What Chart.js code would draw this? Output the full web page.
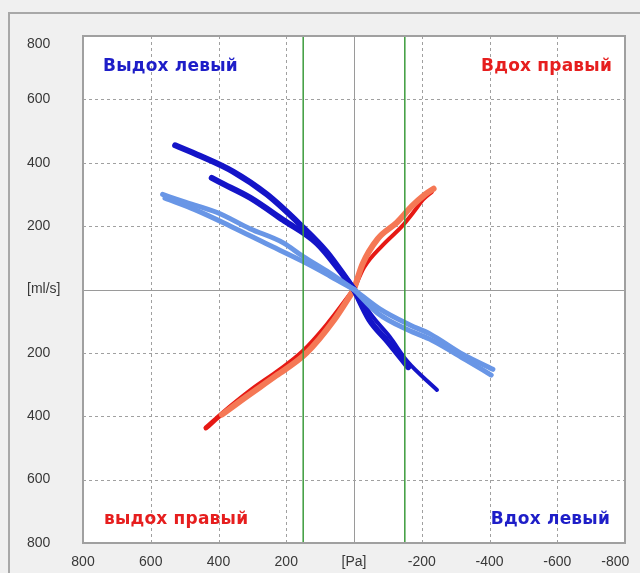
<!DOCTYPE html>
<html>
<head>
<meta charset="utf-8">
<script src="https://cdn.jsdelivr.net/npm/chart.js@4.4.0/dist/chart.umd.min.js"></script>
<style>
  html, body { margin: 0; padding: 0; background: #f0f0f0; }
  #wrap { width: 640px; height: 573px; }
</style>
</head>
<body>
<div id="wrap"><canvas id="flow"></canvas></div>
<script>
// axis ticks
let xTicks = [800, 600, 400, 200, 0, -200, -400, -600, -800];
let yTicks = [800, 600, 400, 200, 0, -200, -400, -600, -800];
let greenLines = [150, -150];

// light blue traces
let lightBlueUpA = [[565, 300], [505, 278], [404, 243], [307, 192], [210, 148], [151, 105], [71, 52], [0, 0]];
let lightBlueUpB = [[558, 288], [470, 252], [357, 196], [260, 145], [150, 88], [70, 42], [0, 0]];
let lightBlueLowA = [[0, 0], [-77, -62], [-165, -112], [-224, -140], [-322, -205], [-410, -252]];
let lightBlueLowB = [[0, 0], [-70, -75], [-160, -128], [-230, -160], [-330, -222], [-405, -270]];

// dark blue traces
let darkBlueUpA = [[528, 455], [455, 422], [357, 372], [257, 300], [159, 205], [80, 118], [21, 32], [0, 0]];
let darkBlueUpB = [[420, 352], [395, 338], [307, 290], [210, 220], [109, 145], [41, 58], [0, 0]];
let darkBlueLowA = [[0, 0], [-56, -87], [-106, -150], [-156, -225], [-245, -317]];
let darkBlueLowB = [[0, 0], [-45, -95], [-100, -165], [-160, -245]];

// red / orange traces
let orangeUp = [[0, 0], [-25, 80], [-70, 160], [-127, 212], [-170, 262], [-210, 300], [-235, 318]];
let redUp = [[0, 0], [-30, 70], [-85, 140], [-142, 200], [-180, 250], [-205, 285], [-230, 308]];
let orangeLow = [[0, 0], [60, -98], [140, -200], [230, -272], [320, -340], [390, -395]];
let redLow = [[0, 0], [80, -112], [151, -196], [220, -255], [300, -315], [396, -398], [437, -437]];

function pts(arr) {
    return arr.map(p => ({ x: p[0], y: p[1] }));
}

function trace(arr, color, width) {
    return {
        data: pts(arr),
        showLine: true,
        borderColor: color,
        borderWidth: width,
        pointRadius: 0,
        cubicInterpolationMode: 'monotone',
        borderCapStyle: 'round',
        borderJoinStyle: 'round'
    };
}

const LIGHT = 'rgb(105,150,230)';
const DARK = 'rgb(20,20,200)';
const RED = 'rgb(230,25,20)';
const ORANGE = 'rgb(245,120,85)';

// frame, white plot area, grid
const framePlugin = {
    id: 'frame',
    beforeDraw(chart) {
        const ctx = chart.ctx;
        const a = chart.chartArea;
        ctx.save();
        ctx.fillStyle = '#f0f0f0';
        ctx.fillRect(0, 0, chart.width, chart.height);
        ctx.strokeStyle = '#a8a8a8';
        ctx.lineWidth = 2;
        ctx.strokeRect(9, 13, chart.width + 20, chart.height + 20);
        ctx.fillStyle = '#ffffff';
        ctx.fillRect(a.left, a.top, a.right - a.left, a.bottom - a.top);
        ctx.restore();
    },
    beforeDatasetsDraw(chart) {
        const ctx = chart.ctx;
        const a = chart.chartArea;
        const xs = chart.scales.x, ys = chart.scales.y;
        ctx.save();
        ctx.lineWidth = 1;
        xTicks.forEach(v => {
            const px = Math.round(xs.getPixelForValue(v)) + 0.5;
            ctx.strokeStyle = v === 0 ? '#9a9a9a' : '#a0a0a0';
            ctx.setLineDash(v === 0 ? [] : [3, 3]);
            ctx.beginPath();
            ctx.moveTo(px, a.top);
            ctx.lineTo(px, a.bottom);
            ctx.stroke();
        });
        yTicks.forEach(v => {
            const py = Math.round(ys.getPixelForValue(v)) + 0.5;
            ctx.strokeStyle = v === 0 ? '#9a9a9a' : '#a0a0a0';
            ctx.setLineDash(v === 0 ? [] : [3, 3]);
            ctx.beginPath();
            ctx.moveTo(a.left, py);
            ctx.lineTo(a.right, py);
            ctx.stroke();
        });
        ctx.restore();
    },
    afterDatasetsDraw(chart) {
        const ctx = chart.ctx;
        const a = chart.chartArea;
        const xs = chart.scales.x;
        ctx.save();
        ctx.strokeStyle = 'rgb(60,155,60)';
        ctx.lineWidth = 1.5;
        greenLines.forEach(v => {
            const px = xs.getPixelForValue(v);
            ctx.beginPath();
            ctx.moveTo(px, a.top);
            ctx.lineTo(px, a.bottom);
            ctx.stroke();
        });
        ctx.strokeStyle = '#a0a0a0';
        ctx.lineWidth = 2;
        ctx.strokeRect(a.left, a.top, a.right - a.left, a.bottom - a.top);

        // corner captions
        ctx.font = "bold 17px 'DejaVu Sans'";
        ctx.letterSpacing = '0.2px';
        ctx.textBaseline = 'middle';
        ctx.fillStyle = 'rgb(30,30,200)';
        ctx.textAlign = 'left';
        ctx.fillText('Выдох левый', a.left + 20, 67);
        ctx.textAlign = 'right';
        ctx.fillText('Вдох левый', a.right - 15, 520);
        ctx.fillStyle = 'rgb(230,30,30)';
        ctx.fillText('Вдох правый', a.right - 13, 67);
        ctx.textAlign = 'left';
        ctx.fillText('выдох правый', a.left + 21, 520);
        ctx.restore();
    }
};

function xLabel(v) {
    if (v === 0) return '[Pa]';
    if (v === -800) return '-800     ';
    return String(v);
}

function yLabel(v) {
    if (v === 0) return '[ml/s]';
    if (v === 800) return ['', '800'];
    return String(Math.abs(v));
}

const ctx = document.getElementById('flow').getContext('2d');
const chart = new Chart(ctx, {
    type: 'scatter',
    data: {
        datasets: [
            trace(lightBlueUpA, LIGHT, 5),
            trace(lightBlueUpB, LIGHT, 5),
            trace(lightBlueLowA, LIGHT, 5),
            trace(lightBlueLowB, LIGHT, 5),
            trace(darkBlueUpA, DARK, 6),
            trace(darkBlueUpB, DARK, 6),
            trace(darkBlueLowA, DARK, 4),
            trace(darkBlueLowB, DARK, 6),
            trace(orangeUp, ORANGE, 6),
            trace(orangeLow, ORANGE, 6),
            trace(redUp, RED, 4),
            trace(redLow, RED, 5)
        ]
    },
    options: {
        responsive: true,
        maintainAspectRatio: false,
        animation: false,
        layout: { padding: { top: 36, left: 27, right: 0, bottom: 0 } },
        plugins: {
            legend: { display: false },
            tooltip: { enabled: false }
        },
        scales: {
            x: {
                type: 'linear',
                min: -800,
                max: 800,
                reverse: true,
                grid: { display: false, drawTicks: false },
                border: { display: false },
                afterFit(scale) { scale.height = 30; scale.paddingRight = 15; },
                afterBuildTicks(scale) { scale.ticks = xTicks.map(v => ({ value: v })); },
                ticks: {
                    padding: 11,
                    maxRotation: 0,
                    autoSkip: false,
                    color: '#383838',
                    font: { family: "'Liberation Sans'", size: 14 },
                    callback: xLabel
                }
            },
            y: {
                type: 'linear',
                min: -800,
                max: 800,
                grid: { display: false, drawTicks: false },
                border: { display: false },
                afterFit(scale) { scale.width = 56; },
                afterBuildTicks(scale) { scale.ticks = yTicks.map(v => ({ value: v })); },
                ticks: {
                    crossAlign: 'far',
                    autoSkip: false,
                    color: '#383838',
                    font: { family: "'Liberation Sans'", size: 14 },
                    callback: yLabel
                }
            }
        }
    },
    plugins: [framePlugin]
});
</script>
</body>
</html>
